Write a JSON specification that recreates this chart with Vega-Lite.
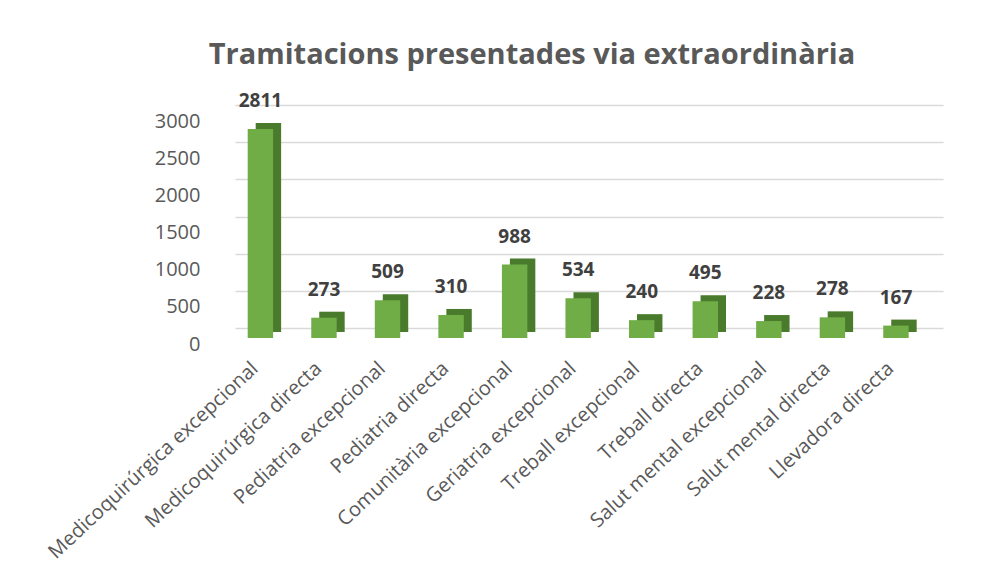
{
  "$schema": "https://vega.github.io/schema/vega-lite/v6.json",
  "autosize": {"type": "none"},
  "width": 708,
  "height": 223,
  "padding": {"left": 235, "top": 115, "right": 50, "bottom": 242},
  "background": "white",
  "title": {
    "text": "Tramitacions presentades via extraordinària",
    "font": "Open Sans",
    "fontSize": 29,
    "fontWeight": "bold",
    "color": "#595959",
    "anchor": "middle",
    "dx": -57,
    "offset": 22
  },
  "data": {
    "values": [
      {"cat": "Medicoquirúrgica excepcional", "n": 2811},
      {"cat": "Medicoquirúrgica directa", "n": 273},
      {"cat": "Pediatria excepcional", "n": 509},
      {"cat": "Pediatria directa", "n": 310},
      {"cat": "Comunitària excepcional", "n": 988},
      {"cat": "Geriatria excepcional", "n": 534},
      {"cat": "Treball excepcional", "n": 240},
      {"cat": "Treball directa", "n": 495},
      {"cat": "Salut mental excepcional", "n": 228},
      {"cat": "Salut mental directa", "n": 278},
      {"cat": "Llevadora directa", "n": 167}
    ]
  },
  "encoding": {
    "x": {
      "field": "cat", "type": "nominal", "sort": null,
      "scale": {"paddingInner": 0.6, "paddingOuter": 0.37, "align": 0.27},
      "axis": {
        "title": null, "labelAngle": -43, "labelFontSize": 20, "labelFont": "Open Sans",
        "labelColor": "#595959", "domain": false, "ticks": false, "labelPadding": 20,
        "labelOffset": -12, "labelLimit": 400, "grid": false
      }
    },
    "y": {
      "field": "n", "type": "quantitative",
      "scale": {"domain": [0, 3000]},
      "axis": {
        "title": null, "values": [0, 500, 1000, 1500, 2000, 2500, 3000], "format": "d",
        "labelFontSize": 20, "labelFont": "Open Sans", "labelColor": "#595959",
        "domain": false, "ticks": false, "labelPadding": 35,
        "tickOffset": -10, "labelOffset": 16,
        "gridColor": "#d9d9d9", "gridWidth": 1.5
      }
    }
  },
  "layer": [
    {"mark": {"type": "bar", "color": "#4a7a2c", "xOffset": 8, "yOffset": -6, "y2Offset": -6}},
    {"mark": {"type": "bar", "color": "#70ad47"}},
    {
      "mark": {"type": "text", "dy": -18, "baseline": "bottom", "font": "Open Sans", "fontSize": 19, "fontWeight": "bold", "color": "#404040"},
      "encoding": {"text": {"field": "n", "type": "quantitative"}}
    }
  ],
  "config": {"view": {"stroke": null}}
}
